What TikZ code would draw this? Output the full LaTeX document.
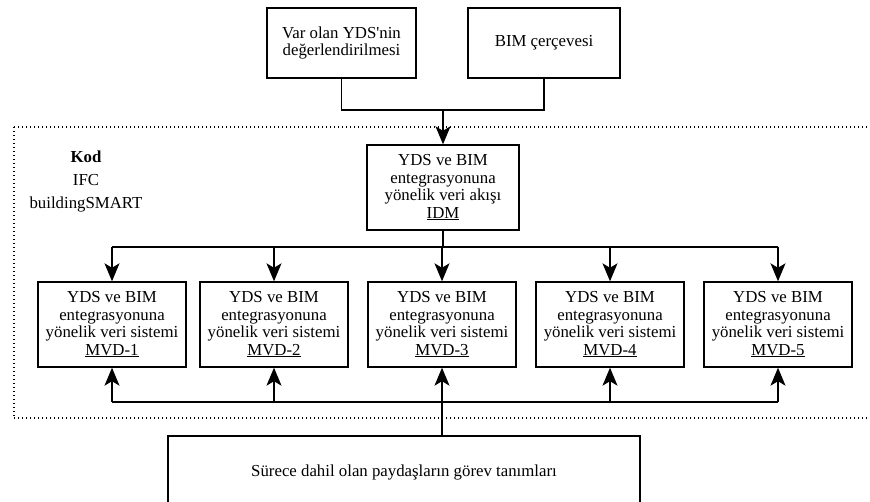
\documentclass[tikz,border=0pt]{standalone}
\usepackage{fontspec}
\setmainfont{Liberation Serif}
\usetikzlibrary{arrows.meta}
\begin{document}
\begin{tikzpicture}[x=1pt,y=-1pt,
  every node/.style={font=\fontsize{16.8}{17.4}\selectfont},
  box/.style={draw,line width=1.4pt,align=center,inner sep=0pt},
  link/.style={line width=1.2pt},
  arr/.style={link,-{Stealth[length=18pt,width=15pt,inset=4.5pt]}},
  frame/.style={line width=1.4pt,dash pattern=on 1.4pt off 2.6pt}]
\clip (0,0) rectangle (870,502);
\useasboundingbox (0,0) rectangle (870,502);

% inputs
\node[box,minimum width=149pt,minimum height=70pt] (yds) at (341.5,43) {Var olan YDS\textquotesingle nin\\değerlendirilmesi};
\node[box,minimum width=152pt,minimum height=70pt] (bim) at (544,43) {BIM çerçevesi};

% code / standards area
\draw[frame] (14,127) -- (880,127);
\draw[frame] (14,418) -- (880,418);
\draw[frame] (14,127) -- (14,418);
\node[align=center,font=\fontsize{16.8}{23}\selectfont] (kod) at (86,181) {\textbf{Kod}\\IFC\\buildingSMART};

% process map
\node[box,minimum width=152pt,minimum height=85pt] (idm) at (443,187.5)
  {YDS ve BIM\\entegrasyonuna\\yönelik veri akışı\\\underline{IDM}};

\foreach \i/\x in {1/112,2/274,3/442,4/610,5/778}{
  \node[box,minimum width=148pt,minimum height=85pt] (mvd\i) at (\x,324.5)
    {YDS ve BIM\\entegrasyonuna\\yönelik veri sistemi\\\underline{MVD-\i}};
}

% roles
\node[box,minimum width=472pt,minimum height=120pt] (roles) at (404,496) {};
\node (rolestext) at (404,472) {Sürece dahil olan paydaşların görev tanımları};

% inputs merge into the IDM
\coordinate (join) at (443,110);
\draw[link] (yds.south) |- (join) -| (bim.south);
\draw[arr] (join) -- (idm.north);

% IDM feeds every MVD
\coordinate (top) at (443,247);
\draw[link] (idm.south) -- (top);
\draw[link] (mvd1.north |- top) -- (mvd5.north |- top);
\foreach \i in {1,...,5}{
  \draw[arr] (mvd\i.north |- top) -- (mvd\i.north);
}

% roles feed every MVD
\coordinate (bot) at (442,402);
\draw[link] (roles.north -| bot) -- (bot);
\draw[link] (mvd1.south |- bot) -- (mvd5.south |- bot);
\foreach \i in {1,...,5}{
  \draw[arr] (mvd\i.south |- bot) -- (mvd\i.south);
}
\end{tikzpicture}
\end{document}
